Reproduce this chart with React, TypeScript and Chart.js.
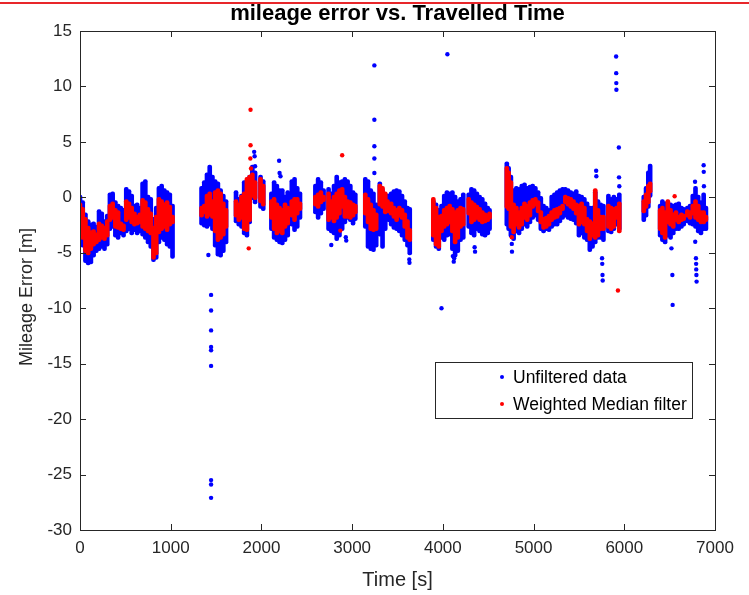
import React, { useEffect, useRef } from "react";
import { Chart, registerables } from "chart.js";

Chart.register(...registerables);

// Columns of the point clouds: time [s], unfiltered low/high, median low/high [m]
const sampleTime = [
  0, 30, 60, 90, 120, 150, 180, 210, 240, 270, 300, 330, 360, 390, 420, 450, 480, 510, 540, 570, 600, 630, 660, 690, 720, 750, 780, 810, 840, 870, 900, 930, 960, 990, 1020,
  1340, 1370, 1400, 1430, 1460, 1490, 1520, 1550, 1580, 1610,
  1720, 1750, 1780, 1810, 1840, 1870, 1900, 1930, 1990, 2020,
  2110, 2140, 2170, 2200, 2230, 2260, 2290,
  2335, 2365, 2395, 2425,
  2595, 2625, 2655, 2685,
  2740, 2770, 2800, 2830, 2860, 2890, 2920, 2950, 2980, 3010, 3035,
  3145, 3175, 3205, 3235, 3265,
  3305, 3335, 3365, 3390,
  3400, 3430, 3460, 3490, 3520, 3550, 3580, 3610, 3635,
  3895, 3925, 3955, 3985, 4015, 4045, 4075, 4105, 4135, 4165, 4195, 4225,
  4285, 4315, 4345, 4375, 4405, 4435, 4465, 4495, 4515,
  4705, 4725, 4750, 4780, 4810, 4840, 4870, 4900, 4930, 4960, 4990, 5020, 5050, 5080, 5110, 5140, 5170, 5200, 5230, 5260, 5290, 5320, 5350, 5380, 5410, 5440, 5470, 5500, 5530, 5560, 5590, 5620, 5650, 5680, 5710, 5740, 5770,
  5825, 5855, 5885, 5915, 5945,
  6215, 6240, 6265, 6285,
  6395, 6420, 6450, 6480, 6510, 6540, 6570, 6600, 6630, 6655,
  6695, 6725, 6755, 6785, 6815, 6845, 6875, 6900,
];
const unfilteredLow = [
  -2.6, -4.5, -5.9, -6.1, -6.0, -5.4, -5.0, -4.8, -4.6, -4.8, -4.4, -3.0, -2.8, -3.6, -3.8, -3.4, -3.6, -3.2, -3.0, -3.4, -3.1, -3.4, -3.2, -3.5, -3.8, -4.2, -4.6, -5.8, -5.6, -4.2, -3.8, -4.0, -4.4, -4.6, -5.5,
  -2.5, -2.7, -2.8, -2.6, -3.0, -4.5, -5.3, -5.4, -5.0, -4.2,
  -2.3, -2.6, -2.8, -3.4, -3.6, -2.4, -0.2, -0.6, -1.0, -1.2,
  -3.0, -3.8, -4.0, -4.2, -4.3, -4.0, -3.6,
  -2.6, -3.1, -2.8, -2.0,
  -1.5, -2.0, -1.6, -1.2,
  -3.0, -3.2, -3.4, -3.9, -3.6, -3.0, -2.4, -2.0, -2.2, -2.5, -2.1,
  -2.8, -4.6, -4.8, -4.9, -4.5,
  -3.5, -4.6, -3.0, -2.0,
  -2.2, -2.6, -2.9, -3.0, -3.2, -3.6, -4.0, -4.5, -5.2,
  -4.0, -4.6, -4.8, -3.8, -4.0, -3.6, -3.5, -4.8, -5.4, -5.0, -4.0, -3.8,
  -2.8, -3.4, -3.6, -3.0, -3.2, -3.5, -3.6, -3.4, -3.0,
  -2.6, -3.0, -3.6, -3.9, -3.2, -3.4, -3.0, -2.6, -2.8, -2.4, -2.0, -1.8, -2.2, -3.0, -3.2, -3.0, -3.1, -2.8, -2.6, -2.6, -2.3, -2.0, -1.8, -2.0, -2.1, -2.2, -2.5, -3.6, -3.4, -3.8, -4.0, -4.9, -4.6, -4.2, -3.8, -3.8, -4.0,
  -3.2, -3.3, -3.0, -2.6, -3.0,
  -2.2, -1.8, -1.0, 0.0,
  -3.6, -4.0, -4.2, -3.6, -3.8, -3.4, -3.0, -3.0, -2.8, -2.6,
  -2.3, -2.5, -2.6, -2.8, -3.2, -3.4, -3.0, -3.0,
];
const unfilteredHigh = [
  0.2, -0.3, -1.4, -2.0, -2.3, -2.2, -2.5, -1.1, -1.3, -2.0, -1.5, 0.4, 0.5, -0.3, -0.6, -0.8, -1.0, 0.9, 0.7, 0.3, -0.6, -0.5, -0.8, 1.4, 1.6, 0.2, 0.0, -1.8, -0.8, 1.0, 1.2, 0.8, 0.6, 0.4, -0.6,
  1.0, 1.5, 2.2, 2.9, 2.0, 1.6, 1.4, 0.8, 0.3, -0.2,
  0.6, 0.0, 0.3, 1.5, 1.6, 2.0, 2.9, 2.4, 2.0, 1.6,
  0.5, 1.5, 1.2, 0.8, 0.8, 0.2, 0.6,
  1.6, 1.8, 1.0, 0.5,
  1.2, 1.8, 1.5, 0.8,
  0.9, 0.5, 1.2, 2.0, 1.5, 1.6, 1.8, 1.6, 1.2, 0.6, 0.4,
  1.8, 1.6, 0.8, 0.5, -0.5,
  1.4, 0.8, 0.4, 0.2,
  0.3, 0.5, 0.7, 0.8, 0.7, 0.3, -0.2, -0.8, -0.9,
  -0.2, -0.5, -1.0, -0.6, 0.3, 0.6, 0.5, 0.6, 0.2, -0.2, 0.0, 0.4,
  0.4, 0.9, 0.8, 0.5, 0.2, 0.0, -0.4, -0.8, -1.0,
  3.2, 2.8, 2.0, 0.8, 1.0, 0.9, 1.2, 1.3, 1.0, 1.1, 1.2, 1.0, 0.6, 0.1, -0.6, -0.8, -1.0, 0.2, 0.4, 0.6, 0.8, 0.9, 0.9, 0.8, 0.6, 0.5, 0.7, 0.3, 0.2, 0.0, -0.4, -0.8, -0.8, 0.6, -0.2, -0.5, -0.6,
  0.3, 0.0, 0.2, 0.0, 0.4,
  0.2, 1.0, 2.4, 3.0,
  -0.6, -0.2, -0.4, -0.6, -0.5, -0.6, -0.5, -0.4, -0.8, -0.9,
  -0.8, -0.6, 0.3, 1.0, 0.2, -0.3, 0.4, -0.8,
];
const medianLow = [
  -2.2, -3.8, -5.0, -5.2, -4.8, -4.4, -4.2, -4.0, -3.8, -3.9, -3.6, -2.2, -2.0, -2.8, -2.9, -3.0, -3.1, -2.2, -2.0, -2.4, -2.6, -2.5, -2.4, -2.8, -3.0, -3.2, -3.4, -5.6, -5.2, -3.3, -3.0, -2.8, -3.1, -2.6, -2.4,
  -1.8, -1.5, -1.9, -1.7, -1.9, -3.2, -4.0, -3.8, -3.5, -2.8,
  -1.8, -2.2, -2.0, -3.0, -3.1, -2.2, 0.0, -0.2, -0.5, -0.8,
  -2.0, -3.0, -3.4, -3.2, -3.4, -2.8, -2.5,
  -1.8, -2.2, -1.6, -1.2,
  -0.8, -1.0, -0.6, -0.4,
  -2.2, -2.0, -2.3, -2.0, -1.6, -1.0, -1.9, -1.9, -2.0, -1.8, -1.5,
  -1.6, -2.4, -3.0, -3.1, -3.0,
  -0.8, -1.0, -1.5, -1.2,
  -1.4, -1.6, -1.9, -2.2, -1.8, -2.0, -2.8, -3.8, -4.0,
  -3.6, -4.4, -4.6, -3.2, -2.8, -2.6, -2.4, -3.2, -4.2, -3.8, -2.8, -2.6,
  -1.6, -2.4, -2.2, -2.0, -2.2, -2.4, -2.3, -2.2, -2.0,
  -1.0, -1.2, -2.8, -3.3, -2.6, -2.9, -2.6, -2.0, -2.2, -1.8, -1.0, -0.8, -1.4, -2.4, -2.9, -2.8, -2.6, -2.2, -2.0, -1.9, -1.6, -1.2, -0.6, -0.8, -1.0, -1.2, -1.6, -2.6, -2.4, -2.6, -3.2, -3.9, -3.6, -3.8, -3.6, -3.0, -3.0,
  -2.8, -3.0, -2.8, -2.0, -3.2,
  -1.4, -1.0, -0.6, 0.4,
  -3.0, -3.4, -3.8, -2.4, -2.6, -2.8, -2.2, -2.4, -2.2, -2.1,
  -1.8, -2.0, -1.6, -2.0, -2.2, -2.4, -2.4, -2.2,
];
const medianHigh = [
  -0.5, -0.9, -1.8, -2.6, -3.0, -2.9, -3.2, -2.2, -2.4, -2.6, -2.0, -0.6, -0.4, -1.0, -1.2, -2.2, -2.4, -0.2, -0.4, -0.8, -1.3, -1.6, -1.4, -0.1, -0.3, -0.9, -1.3, -2.6, -1.6, 0.0, -0.2, -0.5, -0.3, -0.7, -1.6,
  -0.8, -0.6, 0.3, 0.5, -0.2, 0.6, 0.8, 0.5, -0.4, -1.0,
  -0.2, -0.5, 0.2, 0.5, 1.8, 2.0, 2.2, 1.5, 1.8, 1.2,
  -0.2, 0.0, -0.5, -0.8, -1.0, -0.5, -0.8,
  -0.2, 0.0, 0.0, -0.4,
  0.2, 0.4, 0.6, 0.2,
  0.5, -0.2, 0.2, 0.5, 0.8, 0.9, 0.2, -0.2, -0.3, -0.5, -0.6,
  0.4, 0.0, -0.5, -1.0, -1.4,
  1.2, 1.0, 0.5, -0.2,
  -0.6, -0.4, -0.8, -1.0, -0.8, -1.0, -1.4, -2.0, -2.8,
  0.0, -0.8, -1.6, -1.5, -1.0, -0.8, -0.6, -0.9, -1.2, -1.0, -0.8, -0.9,
  0.0, -0.3, -0.5, -0.7, -0.9, -1.2, -1.4, -1.5, -1.3,
  2.8, 2.4, 1.5, -0.5, -0.8, -1.2, -0.8, -0.4, -0.6, -0.3, -0.1, 0.0, -0.3, -1.2, -1.8, -1.7, -1.5, -1.2, -1.0, -0.9, -0.8, -0.6, 0.2, 0.1, 0.0, -0.2, -0.5, -0.6, -0.4, -0.8, -1.8, -2.0, -2.2, 0.8, -1.0, -1.6, -1.6,
  -0.6, -0.8, -0.9, -0.8, -0.4,
  -0.2, 0.4, 1.2, 1.4,
  -1.0, -0.8, -1.2, -0.2, -1.0, -1.4, -1.2, -1.6, -1.4, -1.5,
  -1.1, -1.2, -0.6, -0.2, -0.6, -1.2, -1.2, -1.6,
];

// Isolated points
const unfilteredOutlierTime = [
  1415, 1445, 1445, 1445, 1445, 1445, 1445, 1445, 1445, 1445,
  1920, 1925, 1930, 2195, 2200, 2210, 2770, 2930, 2935,
  3245, 3245, 3245, 3245, 3245, 3630, 3632,
  4050, 3985, 4110, 4120, 4125, 4350, 4355, 4760, 4762,
  5690, 5692, 5755, 5757, 5760, 5762,
  5910, 5911, 5912, 5913, 5940, 5942, 5945,
  6520, 6530, 6533,
  6780, 6782, 6790, 6792, 6793, 6795, 6797, 6875, 6876, 6878,
];
const unfilteredOutlierValue = [
  -5.2, -8.8, -10.2, -12.0, -13.5, -13.8, -15.2, -25.5, -25.9, -27.1,
  4.1, 3.7, 2.8, 3.3, 2.2, 1.9, -4.3, -3.6, -3.9,
  11.9, 7.0, 4.6, 3.5, 2.2, -5.6, -5.9,
  12.9, -10.0, -5.3, -5.8, -5.5, -4.5, -4.9, -4.2, -4.9,
  2.4, 1.9, -5.5, -6.0, -7.0, -7.5,
  12.7, 11.2, 10.3, 9.7, 4.5, 1.8, 1.0,
  -4.6, -7.0, -9.7,
  1.4, -4.0, -5.5, -6.0, -6.5, -7.0, -7.6, 2.9, 2.3, 1.0,
];
const medianOutlierTime = [1880, 1880, 1878, 1885, 1860, 2890, 2870, 4760, 5930, 6555];
const medianOutlierValue = [7.9, 4.7, 3.5, 2.6, -4.6, 3.8, -3.0, -3.6, -8.4, 0.1];

const xTicks = [0, 1000, 2000, 3000, 4000, 5000, 6000, 7000];
const yTicks = [-30, -25, -20, -15, -10, -5, 0, 5, 10, 15];

const BLUE = "rgb(0,0,255)";
const RED = "rgb(255,0,0)";
const AXIS = "#262626";
const FONT = "'Liberation Sans', Arial, Helvetica, sans-serif";

const matlabPlugin = {
  id: "matlabDecor",
  afterDraw(chart: any) {
    const { ctx, chartArea, scales } = chart;
    const { left, right, top, bottom } = chartArea;
    const xs = scales.x;
    const ys = scales.y;
    ctx.save();
    ctx.strokeStyle = AXIS;
    ctx.lineWidth = 1;
    ctx.strokeRect(Math.round(left) + 0.5, Math.round(top) + 0.5, Math.round(right - left), Math.round(bottom - top));
    ctx.beginPath();
    for (const v of xTicks) {
      const px = Math.round(xs.getPixelForValue(v)) + 0.5;
      ctx.moveTo(px, bottom);
      ctx.lineTo(px, bottom - 6);
      ctx.moveTo(px, top);
      ctx.lineTo(px, top + 6);
    }
    for (const v of yTicks) {
      const py = Math.round(ys.getPixelForValue(v)) + 0.5;
      ctx.moveTo(left, py);
      ctx.lineTo(left + 6, py);
      ctx.moveTo(right, py);
      ctx.lineTo(right - 6, py);
    }
    ctx.stroke();

    // title
    ctx.fillStyle = "#000";
    ctx.font = `bold 22px ${FONT}`;
    ctx.textAlign = "center";
    ctx.textBaseline = "middle";
    ctx.fillText("mileage error vs. Travelled Time", (left + right) / 2, 14);

    // axis titles
    ctx.fillStyle = AXIS;
    ctx.font = `20px ${FONT}`;
    ctx.fillText("Time [s]", (left + right) / 2, 580);
    ctx.save();
    ctx.translate(27, 297);
    ctx.rotate(-Math.PI / 2);
    ctx.font = `18px ${FONT}`;
    ctx.fillText("Mileage Error [m]", 0, 0);
    ctx.restore();

    // legend
    const lx = 435, ly = 362, lw = 257, lh = 56;
    ctx.fillStyle = "#fff";
    ctx.fillRect(lx, ly, lw, lh);
    ctx.strokeStyle = AXIS;
    ctx.strokeRect(lx + 0.5, ly + 0.5, lw, lh);
    const items = chart.data.datasets.slice(0, 2);
    ctx.font = `17.5px ${FONT}`;
    ctx.textAlign = "left";
    items.forEach((ds: any, i: number) => {
      const cy = ly + 15 + i * 27;
      ctx.fillStyle = ds.backgroundColor;
      ctx.beginPath();
      ctx.arc(502, cy, 2, 0, Math.PI * 2);
      ctx.fill();
      ctx.fillStyle = "#000";
      ctx.fillText(ds.label, 513, cy + 1);
    });
    ctx.restore();
  },
};

export default function App() {
  const ref = useRef<HTMLCanvasElement>(null);
  useEffect(() => {
    const canvas = ref.current!;
    const band = (lo: number[], hi: number[]) => sampleTime.map((t, i) => ({ x: t, y: [lo[i], hi[i]] }));
    const pts = (t: number[], v: number[]) => t.map((tt, i) => ({ x: tt, y: v[i] }));
    const chart = new Chart(canvas, {
      type: "bar",
      data: {
        datasets: [
          {
            type: "bar",
            label: "Unfiltered data",
            data: band(unfilteredLow, unfilteredHigh) as any,
            backgroundColor: BLUE,
            borderWidth: 0,
            barThickness: 4,
            borderRadius: 2,
            borderSkipped: false,
            grouped: false,
            order: 4,
          },
          {
            type: "bar",
            label: "Weighted Median filter",
            data: band(medianLow, medianHigh) as any,
            backgroundColor: RED,
            borderWidth: 0,
            barThickness: 4,
            borderRadius: 2,
            borderSkipped: false,
            grouped: false,
            order: 2,
          },
          {
            type: "scatter",
            label: "Unfiltered data (isolated)",
            data: pts(unfilteredOutlierTime, unfilteredOutlierValue),
            backgroundColor: BLUE,
            borderWidth: 0,
            pointRadius: 2.2,
            order: 3,
          },
          {
            type: "scatter",
            label: "Weighted Median filter (isolated)",
            data: pts(medianOutlierTime, medianOutlierValue),
            backgroundColor: RED,
            borderWidth: 0,
            pointRadius: 2.2,
            order: 1,
          },
        ] as any,
      },
      options: {
        responsive: false,
        animation: false,
        devicePixelRatio: 1,
        layout: { padding: { top: 31, right: 34, left: 0, bottom: 0 } },
        plugins: { legend: { display: false }, tooltip: { enabled: false }, title: { display: false } },
        scales: {
          x: {
            type: "linear",
            min: 0,
            max: 7000,
            offset: false,
            grid: { display: false, drawTicks: false },
            border: { display: false },
            ticks: {
              stepSize: 1000,
              padding: 8,
              color: AXIS,
              font: { family: FONT, size: 17 },
              maxRotation: 0,
              autoSkip: false,
              callback: (v: any) => String(v),
            },
            afterFit: (s: any) => {
              s.height = 65;
            },
          },
          y: {
            type: "linear",
            min: -30,
            max: 15,
            grid: { display: false, drawTicks: false },
            border: { display: false },
            ticks: {
              stepSize: 5,
              padding: 8,
              color: AXIS,
              font: { family: FONT, size: 17 },
              callback: (v: any) => String(v),
            },
            afterFit: (s: any) => {
              s.width = 80;
            },
          },
        },
      } as any,
      plugins: [matlabPlugin],
    });
    return () => chart.destroy();
  }, []);
  return (
    <div style={{ position: "fixed", left: 0, top: 0, width: 749, height: 595, background: "#fff" }}>
      <canvas ref={ref} width={749} height={595} style={{ display: "block" }} />
      <div style={{ position: "absolute", left: 0, top: 2, width: 749, height: 2, background: "#e8262a" }} />
    </div>
  );
}
